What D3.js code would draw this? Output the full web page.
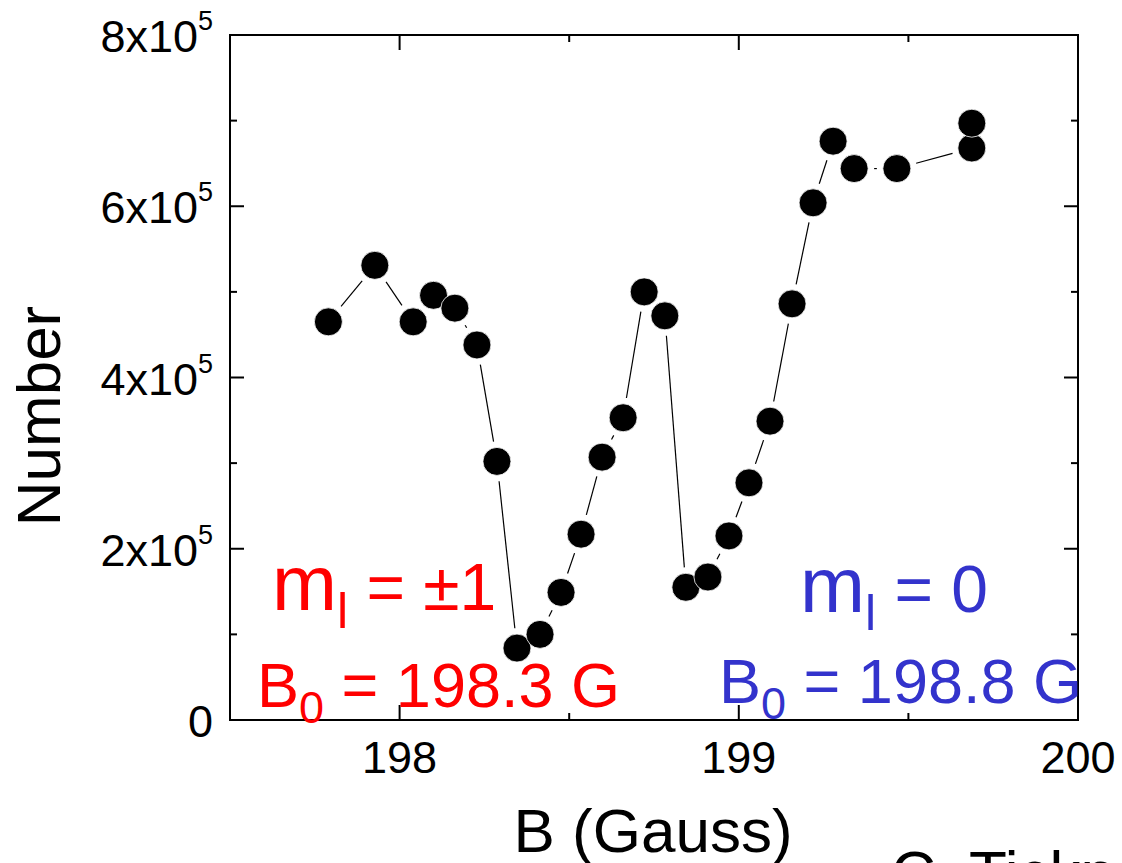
<!DOCTYPE html>
<html>
<head>
<meta charset="utf-8">
<script src="https://cdn.jsdelivr.net/npm/d3@7"></script>
<style>
  body { margin: 0; background: #fff; overflow: hidden; }
  svg { display: block; font-family: "Liberation Sans", Arial, sans-serif; }
</style>
</head>
<body>
<div id="chart"></div>
<script>
// B field (Gauss) and atom number
var bField = [197.79, 197.927, 198.04, 198.10, 198.163, 198.228, 198.287, 198.346, 198.414,
  198.476, 198.535, 198.597, 198.659, 198.721, 198.782, 198.844, 198.909, 198.971, 199.030,
  199.092, 199.157, 199.219, 199.278, 199.340, 199.466, 199.687, 199.687];
var counts = [4.65e5, 5.31e5, 4.65e5, 4.96e5, 4.81e5, 4.38e5, 3.02e5, 0.84e5, 1.00e5,
  1.49e5, 2.17e5, 3.07e5, 3.53e5, 5.00e5, 4.72e5, 1.55e5, 1.67e5, 2.15e5, 2.77e5,
  3.49e5, 4.86e5, 6.04e5, 6.76e5, 6.44e5, 6.44e5, 6.68e5, 6.97e5];

var xMajor = [198, 199, 200];
var xMinor = [198.5, 199.5];
var yMajor = [0, 2e5, 4e5, 6e5, 8e5];
var yMinor = [1e5, 3e5, 5e5, 7e5];

var W = 1122, H = 863;
var pLeft = 230, pRight = 1078, pTop = 35, pBottom = 720;

var svg = d3.select("#chart").append("svg")
  .attr("width", W).attr("height", H);

var x = d3.scaleLinear().domain([197.5, 200]).range([pLeft, pRight]);
var y = d3.scaleLinear().domain([0, 8e5]).range([pBottom, pTop]);

// inward ticks on all four sides
var tickGroup = svg.append("g").attr("stroke", "#000").attr("stroke-width", 2);

function drawTicks(vals, len, side) {
  vals.forEach(function (v) {
    if (side == "bottom" || side == "top") {
      var px = x(v);
      var y0 = side == "bottom" ? pBottom : pTop;
      var dir = side == "bottom" ? -1 : 1;
      tickGroup.append("line").attr("x1", px).attr("x2", px)
        .attr("y1", y0).attr("y2", y0 + dir * len);
    } else {
      var py = y(v);
      var x0 = side == "left" ? pLeft : pRight;
      var dir2 = side == "left" ? 1 : -1;
      tickGroup.append("line").attr("y1", py).attr("y2", py)
        .attr("x1", x0).attr("x2", x0 + dir2 * len);
    }
  });
}
["bottom", "top"].forEach(function (s) {
  drawTicks(xMajor, 15, s);
  drawTicks(xMinor, 7, s);
});
["left", "right"].forEach(function (s) {
  drawTicks(yMajor, 14, s);
  drawTicks(yMinor, 7, s);
});

svg.append("rect")
  .attr("x", pLeft).attr("y", pTop)
  .attr("width", pRight - pLeft).attr("height", pBottom - pTop)
  .attr("fill", "none").attr("stroke", "#000").attr("stroke-width", 2);

// x tick labels
svg.append("g").selectAll("text").data(xMajor).enter().append("text")
  .attr("x", function (d) { return x(d); })
  .attr("y", pBottom + 53)
  .attr("text-anchor", "middle")
  .attr("font-size", 45)
  .text(function (d) { return d; });

// y tick labels with superscripts
var yl = svg.append("g").selectAll("text").data(yMajor).enter().append("text")
  .attr("x", pLeft - 17)
  .attr("y", function (d) { return y(d) + 17; })
  .attr("text-anchor", "end")
  .attr("font-size", 45);
yl.each(function (d) {
  var t = d3.select(this);
  if (d == 0) { t.text("0"); return; }
  t.append("tspan").text((d / 1e5) + "x10");
  t.append("tspan").attr("font-size", 27).attr("dy", -22).text("5");
});

// axis titles
svg.append("text")
  .attr("x", 653).attr("y", 852)
  .attr("text-anchor", "middle").attr("font-size", 62)
  .text("B (Gauss)");

svg.append("text")
  .attr("transform", "translate(60,416) rotate(-90)")
  .attr("text-anchor", "middle").attr("font-size", 62)
  .text("Number");

svg.append("text")
  .attr("x", 891).attr("y", 894)
  .attr("font-size", 62)
  .text("C. Ticknor");

// connecting line, broken near each marker
var r = 14, gap = r + 6;
var pts = bField.map(function (b, i) { return [x(b), y(counts[i])]; });
var segs = [];
for (var i = 0; i < pts.length - 1; i++) {
  var dx = pts[i + 1][0] - pts[i][0], dy = pts[i + 1][1] - pts[i][1];
  var len = Math.sqrt(dx * dx + dy * dy);
  if (len <= 2 * gap) continue;
  var ux = dx / len, uy = dy / len;
  segs.push([pts[i][0] + ux * gap, pts[i][1] + uy * gap,
    pts[i + 1][0] - ux * gap, pts[i + 1][1] - uy * gap]);
}
svg.append("g").selectAll("line").data(segs).enter().append("line")
  .attr("x1", function (d) { return d[0]; }).attr("y1", function (d) { return d[1]; })
  .attr("x2", function (d) { return d[2]; }).attr("y2", function (d) { return d[3]; })
  .attr("stroke", "#000").attr("stroke-width", 1.2);

svg.append("g").selectAll("circle").data(bField).enter().append("circle")
  .attr("cx", function (d) { return x(d); })
  .attr("cy", function (d, i) { return y(counts[i]); })
  .attr("r", r)
  .attr("fill", "#000")
  .attr("stroke", "#fff").attr("stroke-width", 0.8);

// annotations
function label(xp, yp, color, value) {
  var t = svg.append("text").attr("x", xp).attr("y", yp)
    .attr("fill", color).attr("font-size", 66);
  t.append("tspan").attr("font-size", 78).text("m");
  t.append("tspan").attr("font-size", 50).attr("dy", 18).text("l");
  t.append("tspan").attr("dy", -18).text(" = " + value);
}
function field(xp, yp, color, value) {
  var t = svg.append("text").attr("x", xp).attr("y", yp)
    .attr("fill", color).attr("font-size", 63);
  t.append("tspan").text("B");
  t.append("tspan").attr("font-size", 45).attr("dy", 16).text("0");
  t.append("tspan").attr("dy", -16).text(" = " + value + " G");
}
label(272, 610, "#ff0000", "\u00b11");
field(257, 707, "#ff0000", "198.3");
label(800, 612, "#3333cc", "0");
field(719, 703, "#3333cc", "198.8");
</script>
</body>
</html>
